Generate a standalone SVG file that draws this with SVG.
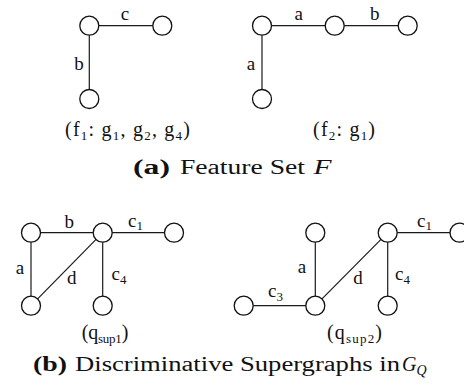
<svg xmlns="http://www.w3.org/2000/svg" width="464" height="391" viewBox="0 0 464 391">
<style>
.e{stroke:#1a1a1a;stroke-width:1.2;fill:none}
.n{fill:#fff;stroke:#111;stroke-width:1.3}
text{font-family:"Liberation Serif","Times New Roman",serif;fill:#111}
.l{font-size:19px;text-anchor:middle}
.s{font-size:13px}
.p{font-size:20px}
.cap{font-size:20px}
.b{font-weight:bold}
.i{font-style:italic}
</style>
<rect width="464" height="391" fill="#fff"/>
<g id="connectors">
<line class="e" x1="89.3" y1="25.7" x2="162.3" y2="25.7"/>
<line class="e" x1="89.3" y1="25.7" x2="89.3" y2="99"/>
<line class="e" x1="262" y1="25.7" x2="407.7" y2="25.7"/>
<line class="e" x1="262" y1="25.7" x2="262" y2="99"/>
<line class="e" x1="31" y1="232.7" x2="174" y2="232.7"/>
<line class="e" x1="31" y1="232.7" x2="31" y2="305.7"/>
<line class="e" x1="31" y1="305.7" x2="102.7" y2="232.7"/>
<line class="e" x1="102.7" y1="232.7" x2="102.7" y2="305.7"/>
<line class="e" x1="387.7" y1="232.7" x2="459.5" y2="232.7"/>
<line class="e" x1="387.7" y1="232.7" x2="387.7" y2="305.7"/>
<line class="e" x1="387.7" y1="232.7" x2="315.3" y2="305.7"/>
<line class="e" x1="315.3" y1="232.7" x2="315.3" y2="305.7"/>
<line class="e" x1="243.7" y1="305.7" x2="315.3" y2="305.7"/>
</g>
<g id="edge-labels">
<text class="l" x="125" y="20">c</text>
<text class="l" x="79" y="70">b</text>
<text class="l" x="298.7" y="20">a</text>
<text class="l" x="374.7" y="20">b</text>
<text class="l" x="251" y="70">a</text>
<text class="l" x="69.3" y="228">b</text>
<text class="l" x="20" y="274">a</text>
<text class="l" x="71.7" y="284">d</text>
<text x="128" y="227" font-size="19">c<tspan class="s" dy="3">1</tspan></text>
<text x="111.5" y="280" font-size="19">c<tspan class="s" dy="4">4</tspan></text>
<text class="l" x="302" y="273">a</text>
<text class="l" x="358" y="284">d</text>
<text x="417" y="227" font-size="19">c<tspan class="s" dy="3">1</tspan></text>
<text x="395" y="280" font-size="19">c<tspan class="s" dy="4">4</tspan></text>
<text x="268" y="297" font-size="19">c<tspan class="s" dy="4">3</tspan></text>
</g>
<g id="f1">
<circle class="n" cx="89.3" cy="25.7" r="9.5"/>
<circle class="n" cx="162.3" cy="25.7" r="9.5"/>
<circle class="n" cx="89.3" cy="99" r="9.5"/>
<text class="p" x="65" y="135.5" textLength="125">(f<tspan class="s" dy="4">1</tspan><tspan dy="-4">: g</tspan><tspan class="s" dy="4">1</tspan><tspan dy="-4">, g</tspan><tspan class="s" dy="4">2</tspan><tspan dy="-4">, g</tspan><tspan class="s" dy="4">4</tspan><tspan dy="-4">)</tspan></text>
</g>
<g id="f2">
<circle class="n" cx="262" cy="25.7" r="9.5"/>
<circle class="n" cx="334.7" cy="25.7" r="9.5"/>
<circle class="n" cx="407.7" cy="25.7" r="9.5"/>
<circle class="n" cx="262" cy="99" r="9.5"/>
<text class="p" x="313" y="135.5" textLength="62">(f<tspan class="s" dy="4">2</tspan><tspan dy="-4">: g</tspan><tspan class="s" dy="4">1</tspan><tspan dy="-4">)</tspan></text>
</g>
<g id="caption-a">
<text class="cap b" x="133" y="174" textLength="37" lengthAdjust="spacingAndGlyphs">(a)</text>
<text class="cap" x="180" y="174" textLength="125" lengthAdjust="spacingAndGlyphs">Feature Set</text>
<text class="cap i" x="313.5" y="174" textLength="18" lengthAdjust="spacingAndGlyphs">F</text>
</g>
<g id="qsup1">
<circle class="n" cx="31" cy="232.7" r="9.5"/>
<circle class="n" cx="102.7" cy="232.7" r="9.5"/>
<circle class="n" cx="174" cy="232.7" r="9.5"/>
<circle class="n" cx="31" cy="305.7" r="9.5"/>
<circle class="n" cx="102.7" cy="305.7" r="9.5"/>
<text class="p" x="81.7" y="338.5" textLength="46.6">(q<tspan class="s" dy="4">sup1</tspan><tspan dy="-4">)</tspan></text>
</g>
<g id="qsup2">
<circle class="n" cx="315.3" cy="232.7" r="9.5"/>
<circle class="n" cx="387.7" cy="232.7" r="9.5"/>
<circle class="n" cx="459.5" cy="232.7" r="9.5"/>
<circle class="n" cx="243.7" cy="305.7" r="9.5"/>
<circle class="n" cx="315.3" cy="305.7" r="9.5"/>
<circle class="n" cx="387.7" cy="305.7" r="9.5"/>
<text class="p" x="327" y="338.5" textLength="55">(q<tspan class="s" dy="4">sup2</tspan><tspan dy="-4">)</tspan></text>
</g>
<g id="caption-b">
<text class="cap b" x="33" y="370.5" textLength="34" lengthAdjust="spacingAndGlyphs">(b)</text>
<text class="cap" x="75" y="370.5" textLength="325" lengthAdjust="spacingAndGlyphs">Discriminative Supergraphs in</text>
<text class="cap i" x="402" y="370.5">G<tspan font-size="14" dy="4">Q</tspan></text>
</g>
</svg>
